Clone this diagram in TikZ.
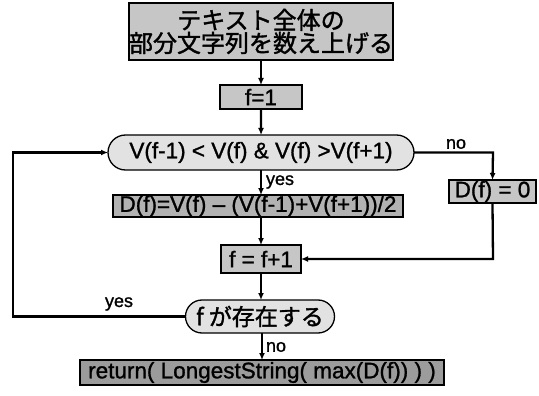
\documentclass[tikz,border=0pt]{standalone}
\usepackage{fontspec}
\setmainfont{Liberation Sans}[BoldFont={Liberation Sans},BoldFeatures={FakeBold=1.2}]
\newfontfamily\jp{Noto Sans CJK JP}[BoldFont={Noto Sans CJK JP},BoldFeatures={FakeBold=1.5}]
\usetikzlibrary{shapes.misc,arrows.meta}
\definecolor{boxgray}{HTML}{C6C6C6}
\definecolor{decgray}{HTML}{E2E2E2}
\definecolor{midgray}{HTML}{B2B2B2}
\definecolor{darkgray}{HTML}{9C9C9C}
\begin{document}
\begin{tikzpicture}[x=1pt,y=-1pt,
  every node/.style={inner sep=0pt,outer sep=0pt},
  procbox/.style={draw=black,line width=1.3pt,rectangle,fill=boxgray,font=\fontsize{22.5}{24}\selectfont\bfseries,align=center},
  decbox/.style={draw=black,line width=1.3pt,rounded rectangle,fill=decgray,font=\fontsize{22.5}{24}\selectfont\bfseries},
  conn/.style={line width=2.3pt,-{Latex[length=7pt,width=6pt]}},
  lbl/.style={font=\fontsize{18}{20}\selectfont\bfseries}]
\useasboundingbox[fill=white] (0,0) rectangle (539,396);
\node[procbox,minimum width=257pt,minimum height=57pt] (b1) at (261,31.5)
  {\jp\bfseries\fontsize{24}{26}\selectfont テキスト全体の\\[-1pt]\jp\bfseries\fontsize{24}{26}\selectfont 部分文字列を数え上げる};
\node[procbox,minimum width=82pt,minimum height=24pt] (f1) at (261,97) {f=1};
\node[decbox,minimum width=306pt,minimum height=35pt] (c1) at (261,152.5) {V(f-1) < V(f) \& V(f) >V(f+1)};
\node[procbox,fill=midgray,minimum width=290pt,minimum height=22pt] (d1) at (258,206) {D(f)=V(f) -- (V(f-1)+V(f+1))/2};
\node[procbox,minimum width=80pt,minimum height=28pt] (f2) at (261,259) {f = f+1};
\node[decbox,minimum width=149pt,minimum height=33pt] (c2) at (260,316.5) {\jp\bfseries\fontsize{23}{25}\selectfont f が存在する};
\node[procbox,fill=darkgray,minimum width=364pt,minimum height=25pt] (r) at (262,372.5) {return( LongestString( max(D(f)) ) )};
\node[procbox,minimum width=87pt,minimum height=23pt] (z) at (492.5,191.5) {D(f) = 0};
\coordinate (cr) at (493,152.5);
\coordinate (zr) at (493,259);
\coordinate (bl) at (13,316.5);
\coordinate (tl) at (13,152.5);
\draw[conn] (b1.south -| f1.north) -- (f1.north);
\draw[conn] (f1) -- (c1);
\draw[conn] (c1.south) -- (d1.north -| c1.south);
\draw[conn] (d1.south -| f2.north) -- (f2.north);
\draw[conn] (f2) -- (c2.north -| f2.south);
\draw[conn] (c2.south -| r.north) -- (r.north);
\draw[conn] (c1.east) -- (cr) -- (z.north);
\draw[conn] (z.south) -- (zr) -- (f2.east);
\draw[conn] (c2.west) -- (bl) -- (tl) -- (c1.west);
\node[lbl,anchor=west] (ly1) at (266,182) {yes};
\node[lbl,anchor=west] (ln1) at (446,144) {no};
\node[lbl] (ly2) at (119,304) {yes};
\node[lbl,anchor=west] (ln2) at (266,347) {no};
\end{tikzpicture}
\end{document}
